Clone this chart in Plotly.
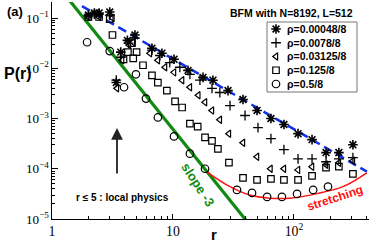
import plotly.graph_objects as go
import numpy as np

# ---------------- data ----------------
r_star = [2.0, 2.24, 2.45, 3.0, 3.4, 3.7, 4.2, 4.85, 6.7, 8.1, 10.2, 13.3, 17.7, 21.4,
          28.5, 37.9, 49.5, 64.5, 82.6, 108, 141, 184, 235, 307]
p_star = [0.115, 0.126, 0.126, 0.132, 0.0052, 0.021, 0.036, 0.046, 0.025, 0.020, 0.0151,
          0.0091, 0.0066, 0.0058, 0.0036, 0.0024, 0.00145, 0.0010, 0.00076, 0.0005,
          0.00038, 0.00021, 0.00021, 0.0003]

r_plus = [2.0, 2.24, 2.45, 3.0, 3.4, 3.7, 4.3, 4.85, 6.7, 7.8, 9.4, 11.4, 13.8, 16.7,
          21.0, 24.4, 29.6, 39.4, 50.4, 64.5, 82.6, 108, 141, 184, 235, 307]
p_plus = [0.11, 0.12, 0.12, 0.115, 0.0058, 0.0166, 0.0316, 0.040, 0.023, 0.018, 0.013,
          0.0105, 0.0076, 0.0058, 0.0040, 0.0033, 0.0018, 0.00115, 0.00066, 0.0004,
          0.00024, 0.000158, 0.000158, 0.000138, 0.000158, 0.000166]

r_tri = [2.0, 2.45, 3.16, 3.44, 3.8, 4.33, 4.67, 6.45, 7.5, 8.6, 10.2, 11.9, 13.8, 16.2,
         18.4, 21.0, 24.4, 29.0, 37.9, 49.5, 64.0, 82.6, 108, 141, 184, 235, 307]
p_tri = [0.105, 0.105, 0.10, 0.004, 0.0145, 0.029, 0.033, 0.020, 0.0145, 0.0105, 0.0083,
         0.0058, 0.0042, 0.0029, 0.0021, 0.00145, 0.00095, 0.0005, 0.00033, 0.000174,
         0.0001, 0.0001, 0.000095, 0.00011, 0.00012, 0.000132, 0.000145]

r_sq = [2.0, 2.45, 3.0, 3.16, 3.9, 4.24, 4.58, 4.69, 5.0, 5.65, 6.7, 7.5, 8.9, 10.4, 11.9,
        13.8, 16.0, 18.4, 21.0, 23.5, 29.0, 37.9, 49.5, 64.5, 82.6, 108, 141, 184, 235, 307]
p_sq = [0.105, 0.105, 0.095, 0.046, 0.0151, 0.021, 0.0316, 0.0158, 0.021, 0.0115, 0.0072,
        0.0052, 0.0036, 0.0022, 0.00166, 0.00079, 0.00069, 0.00042, 0.00036, 0.00025,
        0.000132, 0.000066, 0.00006, 0.000063, 0.00006, 0.00006, 0.000072, 0.000105,
        0.00011, 0.000079]

r_circ = [1.95, 3.0, 3.94, 4.94, 5.98, 7.5, 10.2, 13.8, 18.4, 33.8, 45, 60, 79.5, 106, 144, 191]
p_circ = [0.033, 0.022, 0.0042, 0.0076, 0.0025, 0.00105, 0.00044, 0.0002, 0.0001,
          0.000038, 0.000033, 0.0000275, 0.0000275, 0.0000316, 0.000038, 0.000044]

# guide lines
slope3_pref, slope3_exp = 0.61, -3.0
r_slope3 = [1.0, 60.0]
blue_pref, blue_exp = 0.386, -1.4
r_blue = [1.77, 401.0]
r_red = [19, 29.6, 43, 63, 92.5, 155, 254, 400]
p_red = [8.7e-5, 4.4e-5, 3.0e-5, 2.6e-5, 2.6e-5, 3.2e-5, 4.4e-5, 8.3e-5]

legend_names = ["ρ=0.00048/8", "ρ=0.0078/8", "ρ=0.03125/8", "ρ=0.125/8", "ρ=0.5/8"]
legend_symbols = ["asterisk-open", "cross-thin-open", "triangle-left-open", "square-open", "circle-open"]
legend_sizes = [8, 7, 6.5, 6.5, 7.5]
legend_lw = [1.6, 1.3, 1.2, 1.2, 1.2]

# ---------------- layout geometry ----------------
W, H = 369, 244
ML, MR, MT, MB = 52, 0, 2, 25
PW, PH = W - ML - MR, H - MT - MB


def px(x):
    return (x - ML) / PW


def py(y):
    return 1 - (y - MT) / PH


SANS = "Liberation Sans, Arial, sans-serif"
SERIF = "Liberation Serif, Times New Roman, serif"

fig = go.Figure()

# guide lines
rb = np.array(r_blue)
fig.add_trace(go.Scatter(x=rb, y=blue_pref * rb ** blue_exp, mode="lines",
                         line=dict(color="#1030f0", width=2.5, dash="9px,5px"),
                         showlegend=False, hoverinfo="skip"))
rg = np.array(r_slope3)
fig.add_trace(go.Scatter(x=rg, y=slope3_pref * rg ** slope3_exp, mode="lines",
                         line=dict(color="#118a11", width=3.2),
                         showlegend=False, hoverinfo="skip"))
fig.add_trace(go.Scatter(x=r_red, y=p_red, mode="lines",
                         line=dict(color="#ff1010", width=1.5, shape="spline", smoothing=1.0),
                         showlegend=False, hoverinfo="skip"))

series = [(r_star, p_star), (r_plus, p_plus), (r_tri, p_tri), (r_sq, p_sq), (r_circ, p_circ)]
for (rx, pv), sym, sz, lw in zip(series, legend_symbols, legend_sizes, legend_lw):
    fig.add_trace(go.Scatter(x=rx, y=pv, mode="markers",
                             marker=dict(symbol=sym, size=sz, color="black",
                                         line=dict(color="black", width=lw)),
                             showlegend=False))

# manual legend
leg_rows = [29, 42.75, 56.5, 70.25, 84]
fig.add_shape(type="rect", xref="paper", yref="paper",
              x0=px(267), x1=px(357), y0=py(92), y1=py(22),
              line=dict(color="#777777", width=1), fillcolor="white", layer="below")
for yy, name, sym, sz, lw in zip(leg_rows, legend_names, legend_symbols, legend_sizes, legend_lw):
    fig.add_trace(go.Scatter(x=[px(276)], y=[py(yy)], mode="markers", xaxis="x2", yaxis="y2",
                             marker=dict(symbol=sym, size=sz, color="black",
                                         line=dict(color="black", width=lw)),
                             showlegend=False, hoverinfo="skip"))
    fig.add_annotation(xref="paper", yref="paper", x=px(285), y=py(yy), text="<b>" + name + "</b>",
                       showarrow=False, xanchor="left", yanchor="middle",
                       font=dict(family=SANS, size=10.5, color="black"))

# texts
def txt(x, y, s, size, color="black", angle=0, xanchor="center"):
    fig.add_annotation(xref="paper", yref="paper", x=px(x), y=py(y), text=s, showarrow=False,
                       xanchor=xanchor, yanchor="middle", textangle=angle,
                       font=dict(family=SANS, size=size, color=color))

txt(15, 11, "<b>(a)</b>", 13)
txt(17.5, 73, "<b>P(r)</b>", 16)
txt(214, 235, "<b>r</b>", 15)
txt(291, 13, "<b>BFM with N=8192, L=512</b>", 10.5)
txt(122, 197, "<b>r ≤ 5 : local physics</b>", 10)
txt(198, 184, "<b>slope -3</b>", 13, color="#118a11", angle=57)
txt(335, 198, "<b>stretching</b>", 12, color="#ff1010", angle=-18)

# arrow
fig.add_annotation(xref="paper", yref="paper", x=px(117), y=py(128), ax=0, ay=47,
                   axref="pixel", ayref="pixel", text="", showarrow=True,
                   arrowhead=2, arrowsize=1.3, arrowwidth=1.8, arrowcolor="#222222")

fig.update_layout(
    width=W, height=H, margin=dict(l=ML, r=MR, t=MT, b=MB, autoexpand=False),
    paper_bgcolor="white", plot_bgcolor="white", showlegend=False,
    xaxis=dict(type="log", range=[0, 2.62], showgrid=False, zeroline=False, automargin=False,
               showline=True, linecolor="black", linewidth=1,
               ticks="inside", ticklen=5, tickcolor="black", dtick=1,
               exponentformat="power", tickfont=dict(family=SERIF, size=11, color="black"),
               minor=dict(ticks="inside", ticklen=3, tickcolor="black", dtick="D1", showgrid=False)),
    yaxis=dict(type="log", range=[-5, -0.68], showgrid=False, zeroline=False, automargin=False,
               showline=True, linecolor="black", linewidth=1,
               ticks="inside", ticklen=6, tickcolor="black", dtick=1,
               exponentformat="power", tickfont=dict(family=SERIF, size=10.5, color="black"),
               minor=dict(ticks="inside", ticklen=3, tickcolor="black", dtick="D1", showgrid=False)),
    xaxis2=dict(overlaying="x", range=[0, 1], visible=False, domain=[0, 1]),
    yaxis2=dict(overlaying="y", range=[0, 1], visible=False, domain=[0, 1]),
)

fig.write_html("out.html", config={"displayModeBar": False},
               post_script="document.body.style.margin='0px';")
